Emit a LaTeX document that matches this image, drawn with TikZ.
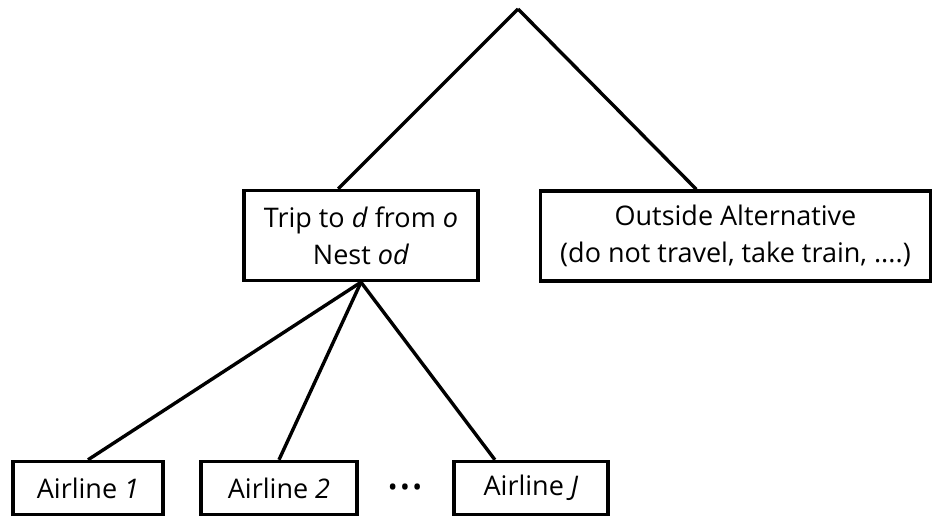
\documentclass[tikz,border=0pt]{standalone}
\usepackage{fontspec}
\setmainfont{Open Sans}
\begin{document}
\begin{tikzpicture}[x=0.5pt,y=-0.5pt,line width=1.7pt,font=\fontsize{13.5}{18.5}\selectfont,
    choice/.style={rectangle,draw=black,line width=1.7pt,align=center,inner sep=0pt},
    nest/.style={choice,minimum height=45pt},
    airline/.style={choice,minimum height=26.5pt}]
  \useasboundingbox (0,0) rectangle (933,517);

  % root of the tree
  \coordinate (root) at (518,9);

  % upper level: nest and outside option
  \node[nest,minimum width=117pt] (trip) at (361,235.5) {Trip to \textit{d} from \textit{o}\\Nest \textit{od}};
  \node[nest,minimum width=195pt] (outside) at (735.5,236) {Outside Alternative\\(do not travel, take train, ....)};

  % lower level: airlines in the nest
  \node[airline,minimum width=75pt] (air1) at (88,488) {Airline \textit{1}};
  \node[airline,minimum width=78pt] (air2) at (279,488) {Airline \textit{2}};
  \node[airline,minimum width=77pt] (airJ) at (531,488) {Airline \textit{J}};
  \node[font=\fontsize{13}{13}\selectfont] (dots) at (405,490) {\textbullet\hspace{1.2pt}\textbullet\hspace{1.2pt}\textbullet};

  % branches
  \draw (root) -- (trip.116);
  \draw (root) -- (outside.130);
  \draw (trip.south) -- (air1.north);
  \draw (trip.south) -- (air2.north);
  \draw (trip.south) -- (airJ.142);
\end{tikzpicture}
\end{document}
